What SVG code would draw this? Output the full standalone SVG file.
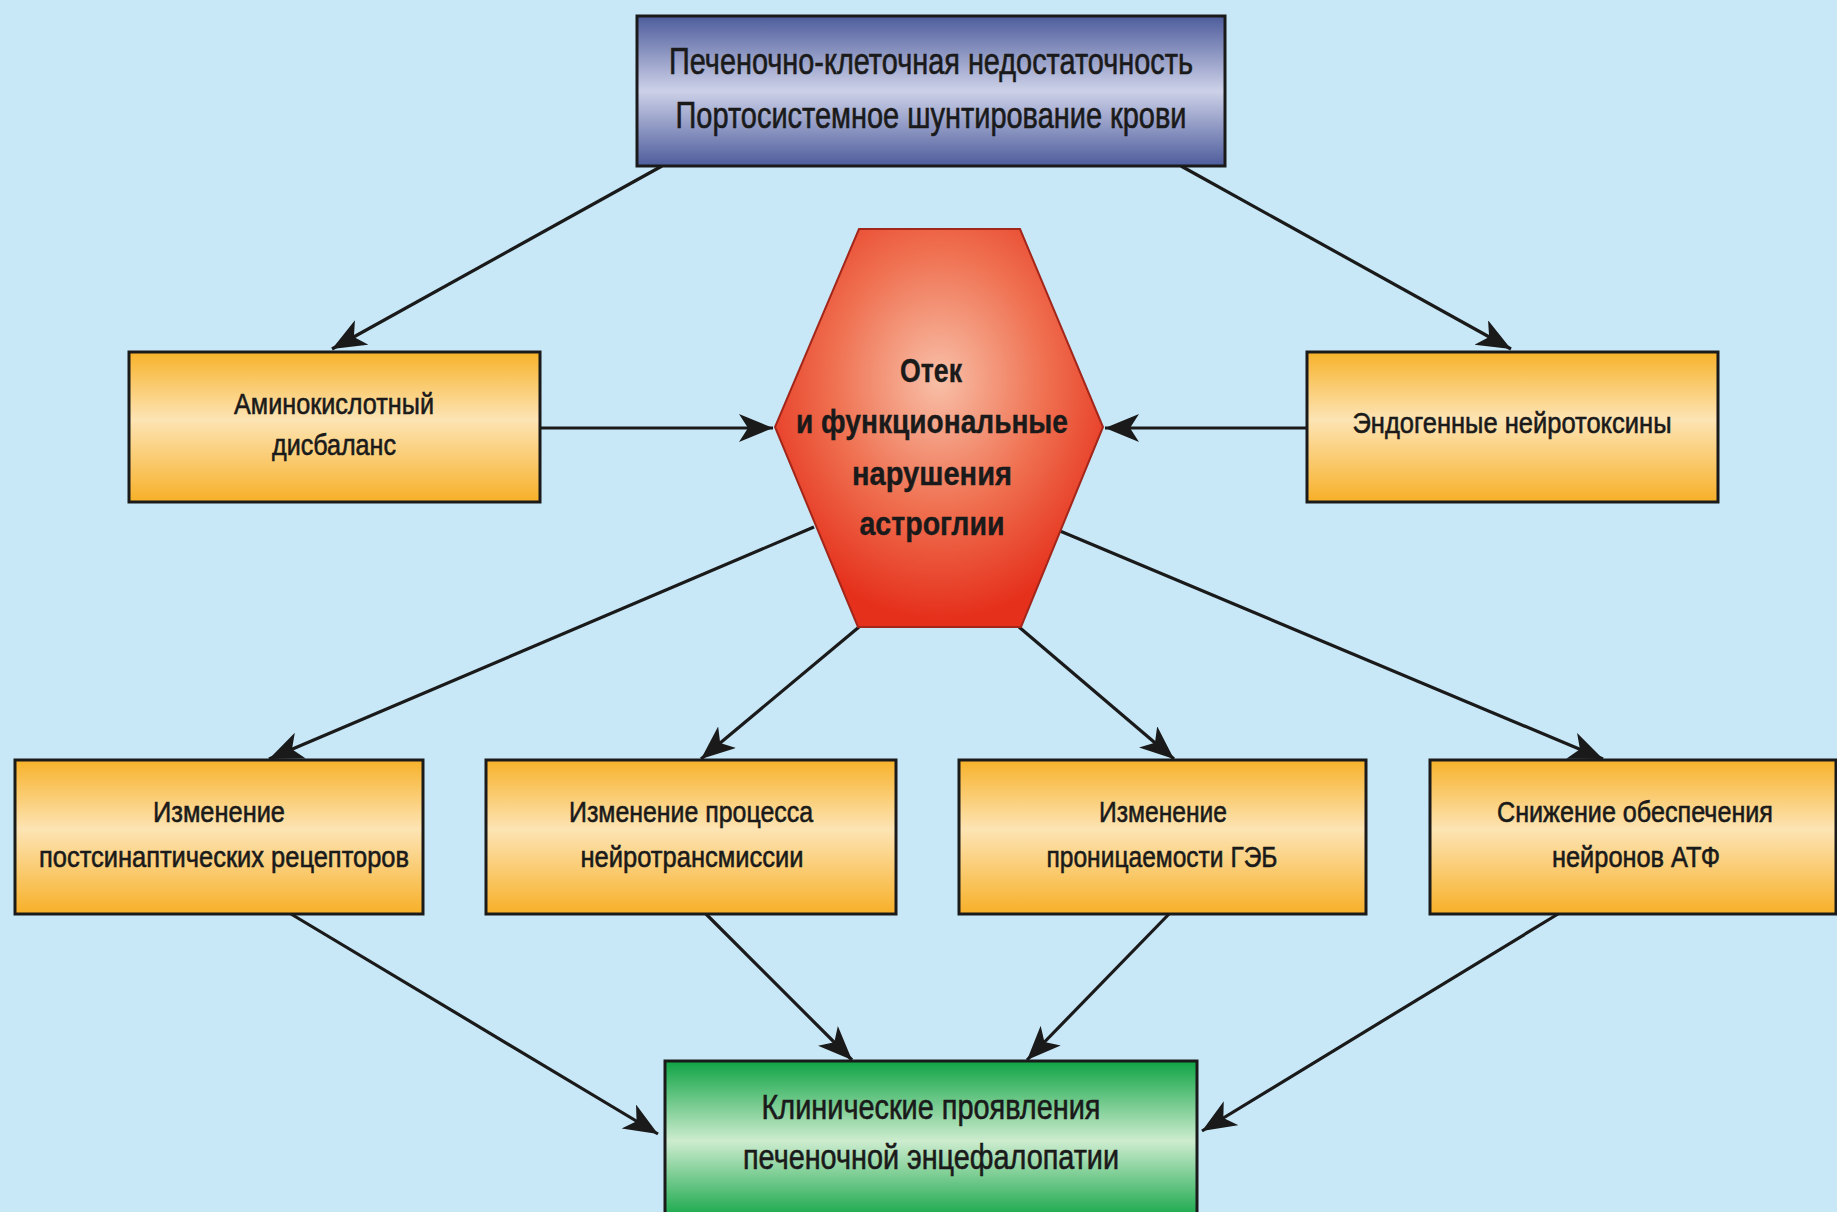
<svg xmlns="http://www.w3.org/2000/svg" width="1837" height="1212" viewBox="0 0 1837 1212">
<defs>
<linearGradient id="gBlue" x1="0" y1="0" x2="0" y2="1">
<stop offset="0" stop-color="#4d5c9c"/><stop offset="0.5" stop-color="#cdd1e8"/><stop offset="1" stop-color="#4d5c9c"/>
</linearGradient>
<linearGradient id="gOrange" x1="0" y1="0" x2="0" y2="1">
<stop offset="0" stop-color="#f7b22a"/><stop offset="0.45" stop-color="#fde4b4"/><stop offset="1" stop-color="#f7b028"/>
</linearGradient>
<linearGradient id="gGreen" x1="0" y1="0" x2="0" y2="1">
<stop offset="0" stop-color="#0fa444"/><stop offset="0.5" stop-color="#cdeccf"/><stop offset="1" stop-color="#0fa444"/>
</linearGradient>
<radialGradient id="gRed" cx="0.5" cy="0.38" r="0.6">
<stop offset="0" stop-color="#f8c0a8"/><stop offset="0.55" stop-color="#ef6f4f"/><stop offset="1" stop-color="#e5301c"/>
</radialGradient>
<marker id="ah" markerUnits="userSpaceOnUse" markerWidth="36" markerHeight="30" refX="34" refY="14" orient="auto">
<path d="M0,0 L34,14 L0,28 L9,14 Z" fill="#1a1a1a"/>
</marker>
</defs>
<style>
.box{stroke:#1a1a1a;stroke-width:3}
.t{font-family:"Liberation Sans","DejaVu Sans",sans-serif;fill:#1a1a1a;stroke:#1a1a1a;stroke-width:0.6;text-anchor:middle}
.h{font-weight:bold;font-size:34px;stroke-width:0.4}
.c{stroke:#1a1a1a;stroke-width:3.2;fill:none;marker-end:url(#ah)}
</style>
<rect x="0" y="0" width="1837" height="1212" fill="#c8e8f8"/>

<g id="connectors">
<line class="c" x1="662" y1="166" x2="332" y2="349"/>
<line class="c" x1="1181" y1="166" x2="1511" y2="349"/>
<line class="c" x1="540" y1="428" x2="773" y2="428"/>
<line class="c" x1="1307" y1="428" x2="1105" y2="428"/>
<line class="c" x1="814" y1="527" x2="269" y2="759"/>
<line class="c" x1="859" y1="627" x2="701" y2="759"/>
<line class="c" x1="1019" y1="627" x2="1174" y2="759"/>
<line class="c" x1="1060" y1="531" x2="1603" y2="759"/>
<line class="c" x1="291" y1="914" x2="658" y2="1134"/>
<line class="c" x1="706" y1="914" x2="852" y2="1060"/>
<line class="c" x1="1169" y1="914" x2="1027" y2="1060"/>
<line class="c" x1="1558" y1="914" x2="1202" y2="1131"/>
</g>

<g id="top">
<rect class="box" x="637" y="16" width="588" height="150" fill="url(#gBlue)"/>
<text class="t" x="931" y="74" font-size="36" textLength="524" lengthAdjust="spacingAndGlyphs">Печеночно-клеточная недостаточность</text>
<text class="t" x="931" y="128" font-size="36" textLength="511" lengthAdjust="spacingAndGlyphs">Портосистемное шунтирование крови</text>
</g>

<g id="amino">
<rect class="box" x="129" y="352" width="411" height="150" fill="url(#gOrange)"/>
<text class="t" x="334" y="414" font-size="30" textLength="200" lengthAdjust="spacingAndGlyphs">Аминокислотный</text>
<text class="t" x="334" y="455" font-size="30" textLength="124" lengthAdjust="spacingAndGlyphs">дисбаланс</text>
</g>

<g id="endo">
<rect class="box" x="1307" y="352" width="411" height="150" fill="url(#gOrange)"/>
<text class="t" x="1512" y="433" font-size="30" textLength="319" lengthAdjust="spacingAndGlyphs">Эндогенные нейротоксины</text>
</g>

<g id="hex">
<polygon points="859,229 1020,229 1103,427 1021,627 858,627 775,427" fill="url(#gRed)" stroke="#a3261a" stroke-width="2"/>
<text class="t h" x="931" y="382" textLength="62" lengthAdjust="spacingAndGlyphs">Отек</text>
<text class="t h" x="932" y="433" textLength="272" lengthAdjust="spacingAndGlyphs">и функциональные</text>
<text class="t h" x="932" y="485" textLength="160" lengthAdjust="spacingAndGlyphs">нарушения</text>
<text class="t h" x="932" y="535" textLength="145" lengthAdjust="spacingAndGlyphs">астроглии</text>
</g>

<g id="b1">
<rect class="box" x="15" y="760" width="408" height="154" fill="url(#gOrange)"/>
<text class="t" x="219" y="822" font-size="30" textLength="132" lengthAdjust="spacingAndGlyphs">Изменение</text>
<text class="t" x="224" y="867" font-size="30" textLength="370" lengthAdjust="spacingAndGlyphs">постсинаптических рецепторов</text>
</g>

<g id="b2">
<rect class="box" x="486" y="760" width="410" height="154" fill="url(#gOrange)"/>
<text class="t" x="691" y="822" font-size="30" textLength="244" lengthAdjust="spacingAndGlyphs">Изменение процесса</text>
<text class="t" x="692" y="867" font-size="30" textLength="223" lengthAdjust="spacingAndGlyphs">нейротрансмиссии</text>
</g>

<g id="b3">
<rect class="box" x="959" y="760" width="407" height="154" fill="url(#gOrange)"/>
<text class="t" x="1163" y="822" font-size="30" textLength="128" lengthAdjust="spacingAndGlyphs">Изменение</text>
<text class="t" x="1162" y="867" font-size="30" textLength="231" lengthAdjust="spacingAndGlyphs">проницаемости ГЭБ</text>
</g>

<g id="b4">
<rect class="box" x="1430" y="760" width="406" height="154" fill="url(#gOrange)"/>
<text class="t" x="1635" y="822" font-size="30" textLength="276" lengthAdjust="spacingAndGlyphs">Снижение обеспечения</text>
<text class="t" x="1636" y="867" font-size="30" textLength="168" lengthAdjust="spacingAndGlyphs">нейронов АТФ</text>
</g>

<g id="clin">
<rect class="box" x="665" y="1061" width="532" height="160" fill="url(#gGreen)"/>
<text class="t" x="931" y="1119" font-size="35" textLength="339" lengthAdjust="spacingAndGlyphs">Клинические проявления</text>
<text class="t" x="931" y="1169" font-size="35" textLength="376" lengthAdjust="spacingAndGlyphs">печеночной энцефалопатии</text>
</g>
</svg>
